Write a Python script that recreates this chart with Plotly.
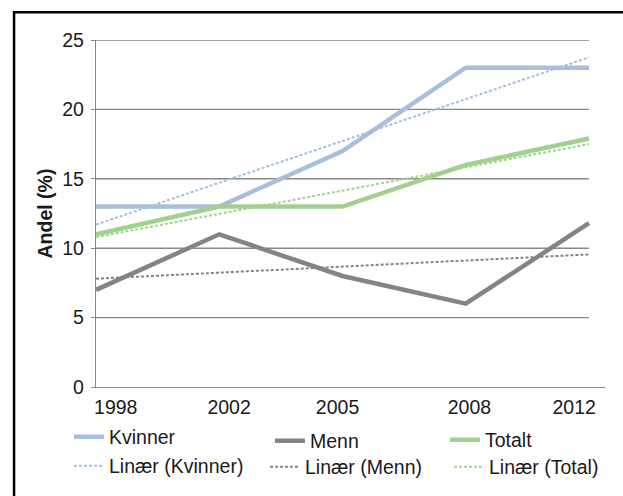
import plotly.graph_objects as go

# ---- data ----
years = ["1998", "2002", "2005", "2008", "2012"]
kvinner = [13, 13, 17, 23, 23]
menn = [7, 11, 8, 6, 11.8]
totalt = [11, 13, 13, 16, 17.9]
# linear trend lines: value at first and last category
trend_kvinner = [11.7, 23.75]
trend_menn = [7.8, 9.55]
trend_totalt = [10.8, 17.5]
y_ticks = [0, 5, 10, 15, 20, 25]

# ---- styling ----
FONT = "Liberation Sans, Arial, sans-serif"
FS = 19.5
C_K = "#A7BEDC"
C_M = "#848486"
C_T = "#A2D18F"
GRID = "#878787"
W, H = 623, 496

xi = list(range(len(years)))
x_ends = [xi[0], xi[-1]]
# tick labels are drawn slightly offset from the points, like the original
label_offsets = [0.16, 0.08, -0.04, 0.03, -0.12]
label_pos = [i + o for i, o in zip(xi, label_offsets)]

# one legend per entry so every entry sits where the original has it
# (text-left x in px, centre y in px)
legend_spots = {
    "legend":  (111, 437),
    "legend2": (312, 441),
    "legend3": (487, 440),
    "legend4": (111, 466),
    "legend5": (307, 467),
    "legend6": (491, 467),
}

fig = go.Figure()
fig.add_trace(go.Scatter(x=xi, y=kvinner, name="Kvinner", mode="lines",
                         line=dict(color=C_K, width=4.5), legend="legend"))
fig.add_trace(go.Scatter(x=xi, y=menn, name="Menn", mode="lines",
                         line=dict(color=C_M, width=4.5), legend="legend2"))
fig.add_trace(go.Scatter(x=xi, y=totalt, name="Totalt", mode="lines",
                         line=dict(color=C_T, width=4.5), legend="legend3"))
fig.add_trace(go.Scatter(x=x_ends, y=trend_kvinner, name="Linær (Kvinner)", mode="lines",
                         line=dict(color=C_K, width=2, dash="3px,2px"), legend="legend4"))
fig.add_trace(go.Scatter(x=x_ends, y=trend_menn, name="Linær (Menn)", mode="lines",
                         line=dict(color=C_M, width=2, dash="3px,2px"), legend="legend5"))
fig.add_trace(go.Scatter(x=x_ends, y=trend_totalt, name="Linær (Total)", mode="lines",
                         line=dict(color=C_T, width=2, dash="3px,2px"), legend="legend6"))

# gridlines that stop at the last category (as in the original)
shapes = []
for v in y_ticks[1:]:
    shapes.append(dict(type="line", xref="x", yref="y", x0=xi[0], x1=xi[-1], y0=v, y1=v,
                       line=dict(color=GRID, width=1.4), layer="below"))
# outer frame (left and top visible; right/bottom run off the picture)
shapes.append(dict(type="rect", xref="paper", yref="paper", x0=-0.161, x1=1.2,
                   y0=-0.6, y1=1.08, line=dict(color="black", width=2.5), layer="below"))

legends = {}
for key, (tx, cy) in legend_spots.items():
    legends[key] = dict(orientation="h", xref="container", yref="container",
                        x=(tx - 42) / W, xanchor="left", y=1 - cy / H, yanchor="middle",
                        font=dict(size=FS, family=FONT, color="#1a1a1a"),
                        bgcolor="rgba(0,0,0,0)", itemwidth=30)

fig.update_layout(
    width=W, height=H,
    margin=dict(l=96, r=18, t=40, b=109, autoexpand=False),
    paper_bgcolor="white", plot_bgcolor="white",
    font=dict(family=FONT, size=FS, color="#1a1a1a"),
    shapes=shapes,
    showlegend=True,
    hovermode=False,
    **legends,
    xaxis=dict(range=[0, 4.13], tickvals=label_pos, ticktext=years, showgrid=False,
               zeroline=False, showline=True, linecolor=GRID, linewidth=1.4,
               ticks="", tickfont=dict(size=FS), fixedrange=True, automargin=False,
               ticklabelstandoff=2),
    yaxis=dict(range=[0, 25], tickvals=y_ticks, showgrid=False, zeroline=False,
               showline=True, linecolor=GRID, linewidth=1.4, ticks="outside",
               ticklen=4, tickcolor=GRID, tickwidth=1.4, tickfont=dict(size=FS),
               automargin=False, ticklabelstandoff=3, fixedrange=True,
               title=dict(text="<b>Andel (%)</b>", font=dict(size=FS), standoff=4)),
)

# remove the browser's default page margin so the figure starts at the corner
fig.write_html("out.html", config={"displayModeBar": False},
               post_script="document.body.style.margin='0';")
